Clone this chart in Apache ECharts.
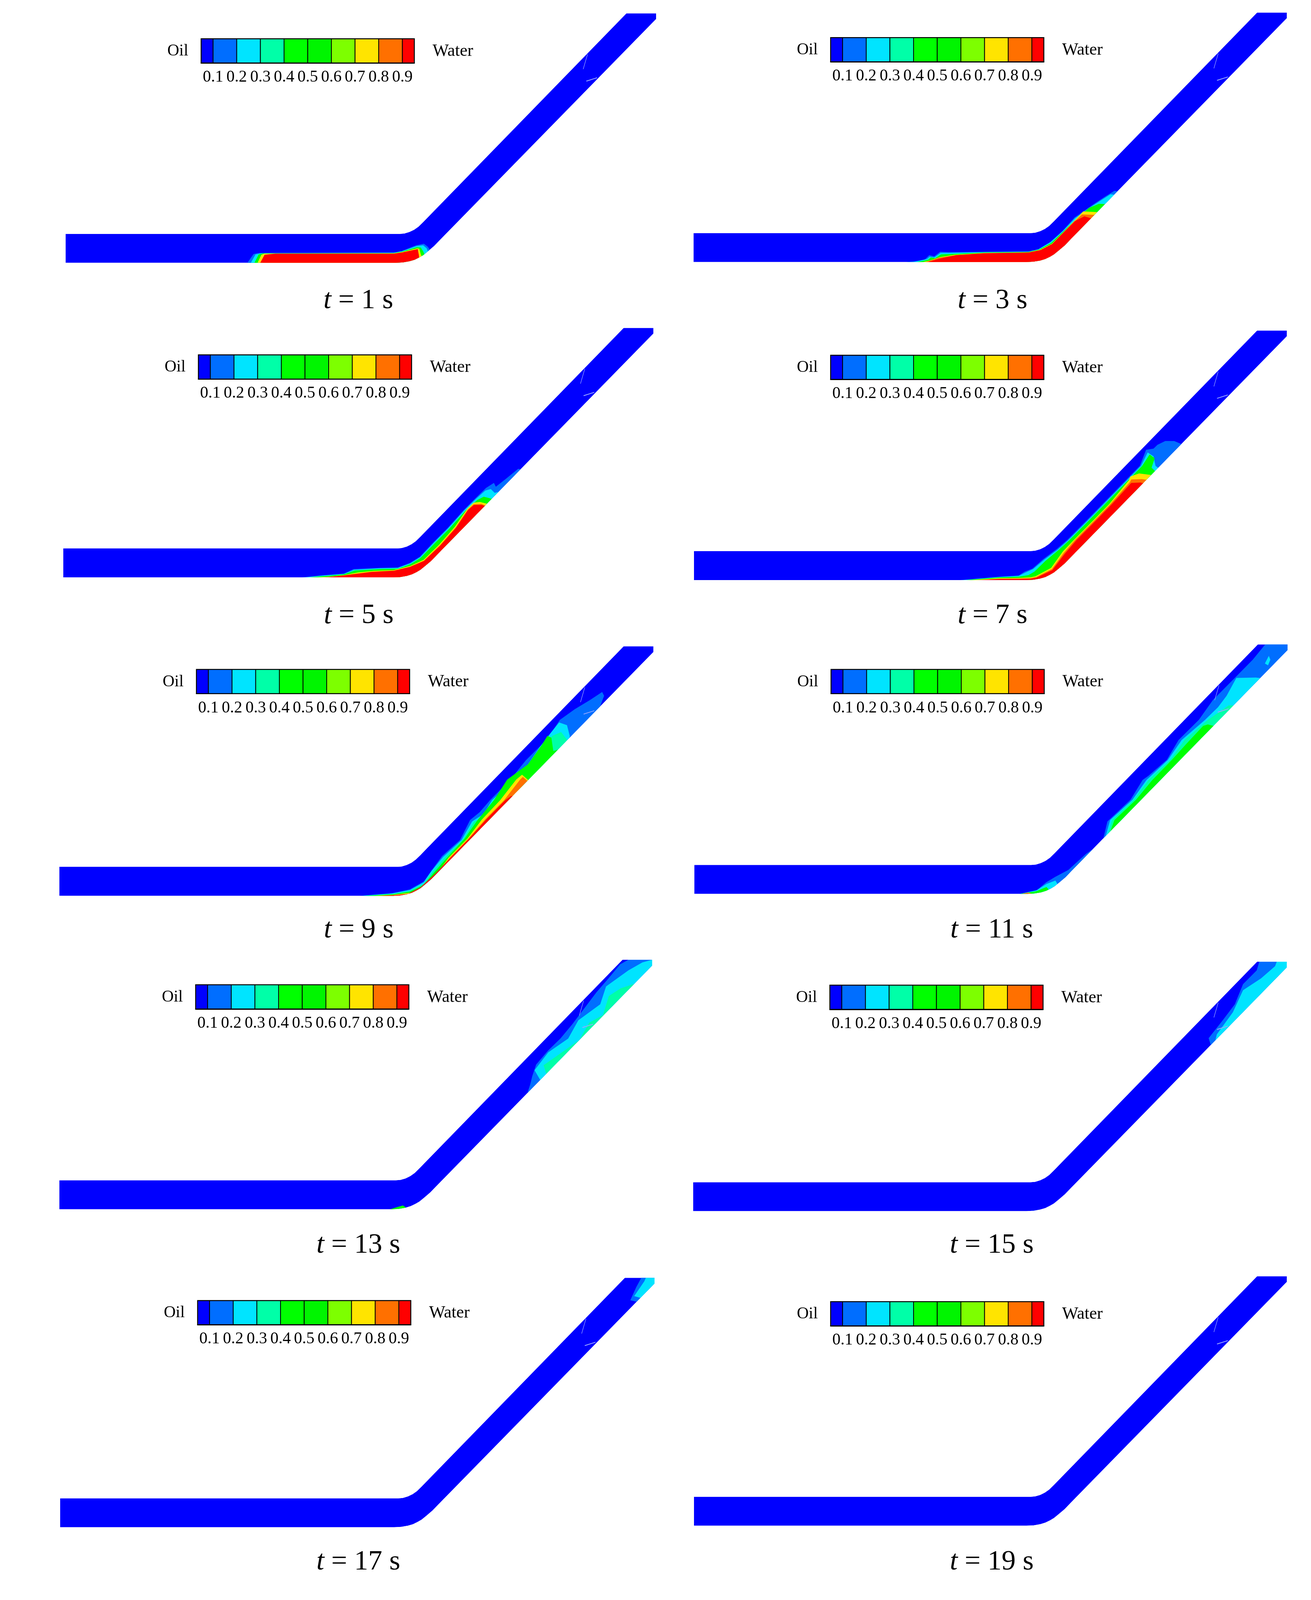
<!DOCTYPE html>
<html>
<head>
<meta charset="utf-8">
<title>Oil and water in an inclined pipe</title>
<script src="https://cdn.jsdelivr.net/npm/echarts@6/dist/echarts.min.js"></script>
<style>
  html, body { margin: 0; padding: 0; background: #fff; overflow: hidden; }
  #main { width: 100vw; height: 100vh; }
</style>
</head>
<body>
<div id="main"></div>
<script>
// snapshot times
const times = [1, 3, 5, 7, 9, 11, 13, 15, 17, 19];

// colour bar
const tickLabels = ['0.1', '0.2', '0.3', '0.4', '0.5', '0.6', '0.7', '0.8', '0.9'];
const tickValues = [0.1, 0.2, 0.3, 0.4, 0.5, 0.6, 0.7, 0.8, 0.9];
const barBreaks = [0.05, 0.1, 0.2, 0.3, 0.4, 0.5, 0.6, 0.7, 0.8, 0.9, 0.95];
const barColors = ['#0000ff', '#006eff', '#00e4ff', '#00ffa8', '#00ff00', '#00f500', '#7dff00', '#ffe400', '#ff7000', '#ff0000'];

// pipe wall, measured from the bend (u along x, v up from the pipe floor)
const pipeUpperWall = [[0, 76], [12, 77], [25, 81], [37, 87], [48, 95], [60, 107], [77, 125], [580, 655]];
const pipeLowerWall = [[656, 640], [103, 60], [88, 44], [72, 30], [60, 20], [50, 14], [38, 8], [25, 4], [8, 1], [-10, 0]];
const pipeEnd = [656, 655];
// just outside the lower wall, used to close contours that lie on it
const wallOutside = [[725, 680], [125, 45], [90, 15], [60, -5], [25, -12]];

// mesh flecks near the top of the inclined leg
const flecks = [
  [[480, 548], [481, 547], [470, 508], [469, 509]],
  [[477, 478], [505, 487], [505, 485], [478, 476]]
];

// volume fraction contours, each [level, interface line from wall to wall]
const contourT1 = [
  [1, [[-390, 0], [-374, 23], [-360, 26], [-15, 27], [5, 31], [42, 46], [62, 50], [72, 42], [86, 20]]],
  [2, [[-381, 0], [-369, 22], [-355, 25], [-15, 26.5], [5, 30], [43, 44], [60, 46], [69, 38], [78, 12]]],
  [4, [[-372, 0], [-361, 22], [-350, 24.5], [-15, 25.5], [5, 29], [44, 41], [54, 40], [60, 30], [68, 10]]],
  [7, [[-364, 0], [-354, 21], [-346, 24], [-15, 25], [5, 28], [45, 38], [50, 37], [54, 22], [60, 8]]],
  [9, [[-357, 0], [-346, 21], [-318, 24], [-15, 24], [5, 27], [46, 36], [49, 20], [50, 8]]]
];
const contourT3 = [
  [1, [[-318, 0], [-272, 5], [-259, 18], [-246, 15], [-231, 27], [-210, 26], [-118, 27], [-5, 28], [20, 34], [51, 53], [82, 82], [113, 117], [159, 150], [190, 171], [215, 187], [228, 185]]],
  [2, [[-300, 0], [-265, 8], [-258, 14], [-246, 12], [-230, 24], [-210, 24], [-118, 26], [-5, 27], [20, 33], [51, 52], [83, 81], [114, 115], [158, 147], [185, 165], [205, 178], [218, 176]]],
  [4, [[-290, 0], [-262, 6], [-255, 12], [-244, 10], [-229, 20], [-205, 21], [-118, 25], [-5, 26.5], [22, 32.5], [53, 50], [84, 80], [116, 112], [150, 142], [175, 153], [196, 152]]],
  [7, [[-275, 0], [-258, 4], [-232, 13], [-195, 19], [-118, 24], [-5, 25.5], [24, 32], [55, 48], [86, 80], [112, 108], [135, 133], [172, 131]]],
  [8, [[-268, 0], [-235, 11], [-192, 18], [-118, 23.5], [-5, 25], [25, 31.5], [55, 47.5], [87, 80], [113, 107], [132, 125], [165, 124]]],
  [9, [[-262, 0], [-231, 9], [-190, 18], [-118, 23], [-5, 25], [26, 31], [56, 47], [87, 80], [113, 107], [138, 120], [158, 114]]]
];
const contourT5 = [
  [1, [[-244, 0], [-198, 5], [-136, 10], [-111, 22], [-44, 25], [2, 26], [33, 38], [58, 54], [94, 93], [130, 130], [171, 177], [202, 209], [228, 235], [248, 248], [253, 238], [279, 259], [310, 285], [322, 283]]],
  [2, [[-235, 0], [-198, 4], [-136, 9], [-110, 20], [-44, 24], [2, 25], [34, 37], [59, 53], [95, 92], [131, 129], [172, 176], [203, 207], [226, 228], [240, 232], [250, 222], [262, 225], [282, 240]]],
  [4, [[-225, 0], [-190, 3], [-136, 8], [-108, 18], [-44, 22], [3, 23], [35, 35], [60, 51], [97, 90], [133, 127], [174, 174], [205, 203], [222, 212], [248, 205]]],
  [7, [[-205, 0], [-170, 2], [-136, 6], [-100, 13], [-60, 17], [-8, 19], [34, 30], [68, 46], [108, 86], [148, 133], [180, 180], [196, 196], [212, 198], [236, 192]]],
  [8, [[-190, 0], [-136, 5.5], [-65, 15], [-8, 18], [33, 28], [69, 44], [110, 84], [150, 131], [181, 178], [196, 192], [216, 193], [232, 186]]],
  [9, [[-177, 0], [-136, 5], [-65, 14], [-8, 17], [33, 27], [69, 43], [110, 83], [151, 130], [182, 177], [197, 190], [217, 190], [232, 185]]]
];
const contourT7 = [
  [1, [[-180, 0], [-80, 9], [-30, 12], [-15, 22], [5, 30], [33, 55], [68, 82], [94, 105], [147, 160], [185, 200], [244, 262], [280, 300], [296, 342], [315, 345], [325, 355], [345, 365], [368, 365], [398, 352]]],
  [2, [[-172, 0], [-80, 8], [-30, 11], [-12, 20], [7, 29], [36, 54], [71, 81], [97, 105], [150, 160], [188, 200], [247, 262], [283, 300], [300, 335], [315, 325], [320, 300], [335, 288]]],
  [4, [[-165, 0], [-80, 7], [-30, 9], [-5, 13], [10, 22], [38, 50], [72, 79], [100, 105], [153, 160], [191, 200], [250, 262], [286, 300], [305, 330], [318, 320], [310, 295], [325, 280]]],
  [7, [[-150, 0], [-80, 5], [-30, 5.5], [0, 7], [13, 10], [53, 32], [83, 75], [111, 105], [164, 160], [202, 200], [252, 262], [256, 272], [278, 280], [315, 275]]],
  [8, [[-135, 0], [-80, 3.5], [-30, 4], [0, 5], [15, 8], [55, 29], [85, 71], [114, 105], [167, 160], [205, 200], [255, 258], [258, 264], [285, 265], [306, 262]]],
  [9, [[-125, 0], [-80, 2.5], [-30, 2.5], [0, 3], [15, 6], [56, 26], [87, 68], [118, 105], [171, 160], [209, 200], [258, 255], [282, 256], [296, 252]]]
];
const contourT9 = [
  [1, [[-95, 0], [-13, 7], [33, 17], [69, 38], [89, 67], [115, 104], [161, 146], [187, 199], [212, 220], [238, 251], [289, 304], [330, 356], [382, 409], [417, 462], [455, 490], [494, 514], [525, 535], [530, 525], [520, 498], [532, 488]]],
  [2, [[-90, 0], [-13, 6], [33, 15], [68, 35], [88, 65], [118, 102], [165, 146], [192, 195], [222, 215], [243, 251], [295, 300], [335, 345], [365, 390], [395, 430], [415, 455], [435, 448], [442, 420], [440, 395]]],
  [3, [[-85, 0], [-10, 5], [33, 13], [68, 32], [90, 62], [122, 100], [169, 148], [197, 195], [228, 208], [245, 245], [300, 295], [340, 335], [370, 385], [397, 420], [420, 430], [435, 410], [425, 372]]],
  [4, [[-80, 0], [-10, 4], [33, 11], [68, 28], [92, 58], [128, 100], [173, 150], [207, 200], [248, 251], [282, 305], [335, 345], [370, 395], [385, 420], [395, 415], [400, 380], [416, 385]]],
  [7, [[-60, 0], [-10, 2.5], [33, 8], [68, 22], [100, 55], [132, 100], [180, 150], [217, 200], [264, 251], [305, 305], [320, 318], [340, 300]]],
  [8, [[-50, 0], [-10, 2], [33, 5], [62, 16], [92, 48], [135, 100], [183, 150], [225, 200], [274, 251], [315, 305], [322, 312], [338, 298]]],
  [9, [[-40, 0], [-5, 1.5], [28, 5], [60, 22], [100, 60], [137, 100], [184, 150], [228, 200], [277, 251], [292, 262], [300, 262]]]
];
const contourT11 = [
  [1, [[-30, 0], [15, 10], [38, 30], [62, 45], [95, 63], [140, 105], [182, 135], [195, 190], [254, 247], [285, 299], [300, 310], [347, 352], [377, 404], [429, 457], [465, 509], [516, 562], [567, 615], [598, 654], [600, 670], [720, 670]]],
  [2, [[186, 135], [202, 194], [259, 247], [295, 299], [350, 352], [385, 404], [445, 457], [478, 490], [500, 520], [525, 567], [575, 568], [600, 565]]],
  [3, [[190, 135], [207, 194], [262, 247], [300, 299], [356, 352], [392, 404], [452, 457], [485, 480], [505, 495], [530, 495]]],
  [4, [[192, 135], [213, 194], [268, 247], [310, 299], [360, 352], [398, 395], [440, 441], [452, 445], [478, 438]]],
  [2, [[-29, 0], [13, 9], [39, 26], [62, 35], [68, 24]]],
  [4, [[-28, 0], [13, 7], [39, 18], [48, 8]]],
  [8, [[-25, 0], [-8, 3.5], [3, 0]]]
];
const contourT13 = [
  [1, [[332, 290], [344, 328], [349, 349], [359, 380], [390, 417], [421, 448], [451, 485], [482, 527], [513, 569], [544, 606], [574, 643], [595, 655], [597, 670], [725, 670]]],
  [2, [[372, 335], [355, 365], [390, 412], [441, 448], [467, 496], [523, 538], [538, 585], [595, 627], [631, 648], [660, 656], [725, 660]]],
  [3, [[385, 355], [378, 378], [425, 412], [470, 445], [495, 490], [530, 510], [545, 560], [575, 580], [610, 592]]],
  [4, [[-15, 0], [5, 6], [18, 10], [28, 3]]]
];
const contourT15 = [
  [1, [[465, 425], [456, 454], [492, 501], [523, 543], [544, 596], [579, 632], [590, 670], [725, 670]]],
  [2, [[470, 435], [477, 464], [518, 522], [544, 580], [590, 611], [626, 643], [636, 670], [725, 670]]],
  [1, [[-3, 0], [20, 3], [28, 2]]]
];
const contourT17 = [
  [1, [[620, 590], [594, 596], [609, 630], [630, 670], [725, 670]]],
  [2, [[628, 600], [604, 607], [630, 646], [640, 670], [725, 670]]]
];
const contourT19 = [];
const contours = [contourT1, contourT3, contourT5, contourT7, contourT9, contourT11, contourT13, contourT15, contourT17, contourT19];

// free standing patches, [level, outline]
const islandsT7 = [[1, [[344, 355], [364, 359], [366, 344], [344, 318], [323, 308], [315, 326], [328, 342]]]];
const islandsT11 = [[2, [[598, 605], [608, 625], [612, 615], [606, 600]]]];
const islands = [[], [], [], islandsT7, [], islandsT11, [], [], [], []];

// page layout, one entry per panel
const pipeLeft = [168, 1775, 162, 1776, 152, 1777, 152, 1774, 154, 1776];
const bendX = [1023, 2637, 1016, 2637, 1016, 2639, 1013, 2637, 1019, 2637];
const floorY = [690, 688, 1516, 1523, 2352, 2347, 3175, 3180, 4010, 4006];
const barLeft = [515, 2126, 508, 2126, 503, 2127, 501, 2124, 506, 2126];
const barTop = [102, 99, 932, 933, 1758, 1758, 2586, 2587, 3415, 3418];
const labelX = [917, 2540, 918, 2540, 918, 2538, 917, 2538, 917, 2538];
const labelY = [790, 790, 1617, 1617, 2442, 2442, 3270, 3270, 4102, 4102];

const serif = '"Liberation Serif", "Times New Roman", serif';
const pipeHeight = 655;
const pipeRight = 656;
const barWidth = 545;
const barHeight = 63;

// browser window can be shorter than the figure, keep the whole figure on the page
const fitY = window.innerHeight / 4201;

// closes an interface line along the outside of the lower wall
function closeOnWall(line) {
  const startU = line[0][0];
  const endU = line[line.length - 1][0];
  const back = wallOutside.filter(p => p[0] < endU && p[0] > startU);
  return line.concat(back);
}

function polygon(points, api, fill) {
  return {
    type: 'polygon',
    shape: { points: points.map(p => api.coord(p)) },
    style: { fill: fill }
  };
}

function renderPanel(panel) {
  return (params, api) => {
    const left = pipeLeft[panel] - bendX[panel];
    const outline = [[left, 76]].concat(pipeUpperWall, [pipeEnd], pipeLowerWall, [[left, 0]]);
    const children = [polygon(outline, api, barColors[0])];
    contours[panel].forEach(c => {
      children.push(polygon(closeOnWall(c[1]), api, barColors[c[0]]));
    });
    islands[panel].forEach(c => {
      children.push(polygon(c[1], api, barColors[c[0]]));
    });
    flecks.forEach(f => children.push(polygon(f, api, '#9aa8ff')));
    return {
      type: 'group',
      clipPath: { type: 'polygon', shape: { points: outline.map(p => api.coord(p)) } },
      children: children
    };
  };
}

function renderBarCell(params, api) {
  const a = api.coord([api.value(0), 1]);
  const b = api.coord([api.value(1), 0]);
  return {
    type: 'rect',
    shape: { x: a[0], y: a[1], width: b[0] - a[0], height: b[1] - a[1] },
    style: { fill: barColors[params.dataIndex], stroke: '#000', lineWidth: 2 }
  };
}

const grids = [], xAxes = [], yAxes = [], series = [], titles = [];

times.forEach((t, i) => {
  // pipe panel
  grids.push({
    left: pipeLeft[i],
    top: (floorY[i] - pipeHeight) * fitY,
    width: bendX[i] + pipeRight - pipeLeft[i],
    height: pipeHeight * fitY
  });
  xAxes.push({ type: 'value', gridIndex: 2 * i, min: pipeLeft[i] - bendX[i], max: pipeRight, show: false });
  yAxes.push({ type: 'value', gridIndex: 2 * i, min: 0, max: pipeHeight, show: false });
  series.push({
    type: 'custom',
    xAxisIndex: 2 * i,
    yAxisIndex: 2 * i,
    silent: true,
    animation: false,
    data: [[0, 0]],
    renderItem: renderPanel(i)
  });

  // colour bar
  grids.push({
    left: barLeft[i],
    top: barTop[i] * fitY,
    width: barWidth,
    height: barHeight * fitY,
    show: true,
    borderColor: '#000',
    borderWidth: 3,
    backgroundColor: 'transparent'
  });
  xAxes.push({
    type: 'value',
    gridIndex: 2 * i + 1,
    min: 0.05,
    max: 0.95,
    axisLine: { show: true, onZero: false, lineStyle: { color: '#000', width: 3 } },
    axisTick: { show: false },
    splitLine: { show: false },
    axisLabel: {
      customValues: tickValues,
      formatter: v => tickLabels[tickValues.findIndex(x => Math.abs(x - v) < 0.001)],
      color: '#000',
      fontFamily: serif,
      fontSize: 42,
      margin: 16
    }
  });
  yAxes.push({ type: 'value', gridIndex: 2 * i + 1, min: 0, max: 1, show: false });
  series.push({
    type: 'custom',
    xAxisIndex: 2 * i + 1,
    yAxisIndex: 2 * i + 1,
    silent: true,
    animation: false,
    z: 3,
    data: barColors.map((c, k) => [barBreaks[k], barBreaks[k + 1]]),
    renderItem: renderBarCell
  });

  // texts
  const midY = (barTop[i] + barHeight / 2 + 1) * fitY;
  titles.push({
    text: 'Oil',
    left: barLeft[i] - 60,
    top: midY,
    padding: 0,
    textAlign: 'center',
    textVerticalAlign: 'middle',
    textStyle: { color: '#000', fontFamily: serif, fontSize: 42, fontWeight: 'normal' }
  });
  titles.push({
    text: 'Water',
    left: barLeft[i] + barWidth + 99,
    top: midY,
    padding: 0,
    textAlign: 'center',
    textVerticalAlign: 'middle',
    textStyle: { color: '#000', fontFamily: serif, fontSize: 44, fontWeight: 'normal' }
  });
  titles.push({
    text: '{i|t} = ' + t + ' s',
    left: labelX[i],
    top: labelY[i] * fitY,
    padding: 0,
    textAlign: 'center',
    textVerticalAlign: 'middle',
    textStyle: {
      color: '#000',
      fontFamily: serif,
      fontSize: 72,
      fontWeight: 'normal',
      rich: { i: { fontFamily: serif, fontSize: 72, fontStyle: 'italic', color: '#000' } }
    }
  });
});

const chart = echarts.init(document.getElementById('main'));
chart.setOption({
  backgroundColor: '#fff',
  animation: false,
  title: titles,
  grid: grids,
  xAxis: xAxes,
  yAxis: yAxes,
  series: series
});
</script>
</body>
</html>
